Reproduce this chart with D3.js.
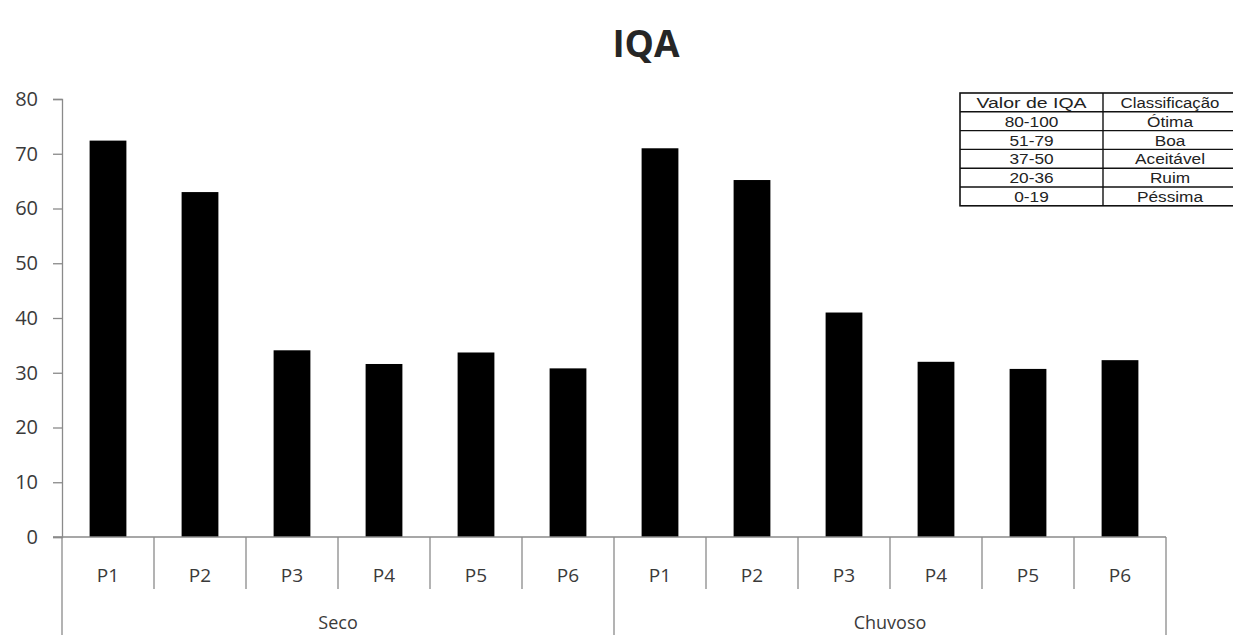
<!DOCTYPE html>
<html>
<head>
<meta charset="utf-8">
<script src="https://cdn.jsdelivr.net/npm/d3@7"></script>
<style>
  html, body { margin: 0; padding: 0; background: #fff; }
  svg { display: block; }
</style>
</head>
<body>
<svg id="chart" width="1233" height="635"></svg>
<script>
// IQA (Índice de Qualidade da Água) por ponto de coleta, período seco e chuvoso
const periods = ["Seco", "Chuvoso"];
const points = ["P1", "P2", "P3", "P4", "P5", "P6"];
const secoValues = [72.4, 63.0, 34.1, 31.6, 33.7, 30.8];
const chuvosoValues = [71.0, 65.2, 41.0, 32.0, 30.7, 32.3];
const yTicks = [0, 10, 20, 30, 40, 50, 60, 70, 80];

// Classification table
const tableHeader = ["Valor de IQA", "Classificação"];
const iqaRanges = ["80-100", "51-79", "37-50", "20-36", "0-19"];
const iqaClasses = ["Ótima", "Boa", "Aceitável", "Ruim", "Péssima"];

const seriesByPeriod = { "Seco": secoValues, "Chuvoso": chuvosoValues };

const svg = d3.select("#chart");
const font = "'Open Sans', 'Noto Sans', sans-serif";
const axisColor = "#8a8a8a";
const textColor = "#3a3a3a";

const plot = { left: 62, right: 1166, top: 99, bottom: 537 };

const y = d3.scaleLinear().domain([0, 80]).range([plot.bottom, plot.top]);

const xOuter = d3.scaleBand().domain(periods).range([plot.left, plot.right]).padding(0);
const xInner = d3.scaleBand().domain(points).range([0, xOuter.bandwidth()])
  .paddingInner(0.6).paddingOuter(0.3);

// Title
svg.append("text")
  .attr("x", 646).attr("y", 57)
  .attr("text-anchor", "middle")
  .attr("font-family", font)
  .attr("font-weight", "bold")
  .attr("font-size", 37)
  .attr("fill", "#262626")
  .text("IQA");

// Y axis
const yAxis = svg.append("g")
  .attr("transform", `translate(${plot.left},0)`)
  .call(d3.axisLeft(y).tickValues(yTicks).tickSize(9).tickPadding(15).tickFormat(d3.format("d")));
yAxis.select(".domain").attr("stroke", axisColor).attr("stroke-width", 1.3);
yAxis.selectAll(".tick line").attr("stroke", axisColor).attr("stroke-width", 1.3);
yAxis.selectAll(".tick text")
  .attr("font-family", font).attr("font-size", 20).attr("fill", textColor);

// Bars
const data = [];
periods.forEach(p => points.forEach((pt, i) => data.push({ period: p, point: pt, value: seriesByPeriod[p][i] })));

svg.append("g").selectAll("rect")
  .data(data)
  .join("rect")
  .attr("x", d => xOuter(d.period) + xInner(d.point))
  .attr("y", d => y(d.value))
  .attr("width", xInner.bandwidth())
  .attr("height", d => y(0) - y(d.value))
  .attr("fill", "#000");

// X axis (two-level categories)
const xg = svg.append("g");
xg.append("line")
  .attr("x1", plot.left - 9).attr("x2", plot.right)
  .attr("y1", y(0)).attr("y2", y(0))
  .attr("stroke", axisColor).attr("stroke-width", 1.3);

const step = xInner.step();
periods.forEach(p => {
  const x0 = xOuter(p);
  // dividers between point categories
  d3.range(1, points.length).forEach(k => {
    xg.append("line")
      .attr("x1", x0 + k * step).attr("x2", x0 + k * step)
      .attr("y1", y(0)).attr("y2", y(0) + 52)
      .attr("stroke", axisColor).attr("stroke-width", 1.3);
  });
  points.forEach(pt => {
    xg.append("text")
      .attr("x", x0 + xInner(pt) + xInner.bandwidth() / 2)
      .attr("y", y(0) + 45)
      .attr("text-anchor", "middle")
      .attr("font-family", font).attr("font-size", 19).attr("fill", textColor)
      .text(pt);
  });
  xg.append("text")
    .attr("x", x0 + xOuter.bandwidth() / 2)
    .attr("y", 629)
    .attr("text-anchor", "middle")
    .attr("font-family", font).attr("font-size", 18).attr("fill", textColor)
    .text(p);
});
// period boundaries
[plot.left, ...periods.map(p => xOuter(p) + xOuter.bandwidth())].forEach(xv => {
  xg.append("line")
    .attr("x1", xv).attr("x2", xv)
    .attr("y1", y(0)).attr("y2", 640)
    .attr("stroke", axisColor).attr("stroke-width", 1.3);
});

// Classification table
const table = { left: 960, top: 93, colSplit: 1103, right: 1253, rowH: 18.8 };
const rows = [tableHeader].concat(iqaRanges.map((r, i) => [r, iqaClasses[i]]));
const tg = svg.append("g");
const nRows = rows.length;
const tBottom = table.top + nRows * table.rowH;

tg.append("rect")
  .attr("x", table.left).attr("y", table.top)
  .attr("width", table.right - table.left).attr("height", tBottom - table.top)
  .attr("fill", "#fff").attr("stroke", "#111").attr("stroke-width", 1.6);
d3.range(1, nRows).forEach(k => {
  tg.append("line")
    .attr("x1", table.left).attr("x2", table.right)
    .attr("y1", table.top + k * table.rowH).attr("y2", table.top + k * table.rowH)
    .attr("stroke", "#111").attr("stroke-width", 1.4);
});
tg.append("line")
  .attr("x1", table.colSplit).attr("x2", table.colSplit)
  .attr("y1", table.top).attr("y2", tBottom)
  .attr("stroke", "#111").attr("stroke-width", 1.4);

// column 2 text is centred a little left so the header stays inside the page
const colCenters = [(table.left + table.colSplit) / 2, 1170];
rows.forEach((row, r) => {
  row.forEach((txt, c) => {
    const cx = colCenters[c];
    const cy = table.top + r * table.rowH + table.rowH / 2 + 5.5;
    const sx = r === 0 ? (c === 0 ? 1.3 : 1.12) : 1.15;
    tg.append("text")
      .attr("transform", `translate(${cx},${cy}) scale(${sx},1)`)
      .attr("text-anchor", "middle")
      .attr("font-family", "'Liberation Sans', Arial, sans-serif")
      .attr("font-size", 15)
      .attr("fill", "#222")
      .text(txt);
  });
});
</script>
</body>
</html>
